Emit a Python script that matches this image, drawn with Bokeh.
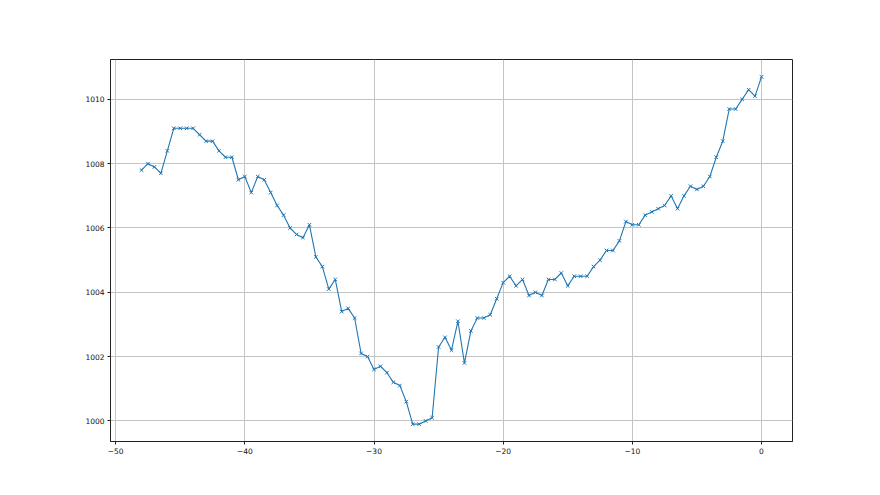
from bokeh.plotting import figure
from bokeh.embed import file_html
from bokeh.resources import INLINE
from bokeh.models import Range1d, FixedTicker, CustomJSTickFormatter, ColumnDataSource

hours = [-48, -47.5, -47, -46.5, -46, -45.5, -45, -44.5, -44, -43.5, -43, -42.5,
         -42, -41.5, -41, -40.5, -40, -39.5, -39, -38.5, -38, -37.5, -37, -36.5,
         -36, -35.5, -35, -34.5, -34, -33.5, -33, -32.5, -32, -31.5, -31, -30.5,
         -30, -29.5, -29, -28.5, -28, -27.5, -27, -26.5, -26, -25.5, -25, -24.5,
         -24, -23.5, -23, -22.5, -22, -21.5, -21, -20.5, -20, -19.5, -19, -18.5,
         -18, -17.5, -17, -16.5, -16, -15.5, -15, -14.5, -14, -13.5, -13, -12.5,
         -12, -11.5, -11, -10.5, -10, -9.5, -9, -8.5, -8, -7.5, -7, -6.5,
         -6, -5.5, -5, -4.5, -4, -3.5, -3, -2.5, -2, -1.5, -1, -0.5, 0]

pressure = [1007.8, 1008.0, 1007.9, 1007.7, 1008.4, 1009.1, 1009.1, 1009.1, 1009.1, 1008.9, 1008.7, 1008.7,
            1008.4, 1008.2, 1008.2, 1007.5, 1007.6, 1007.1, 1007.6, 1007.5, 1007.1, 1006.7, 1006.4, 1006.0,
            1005.8, 1005.7, 1006.1, 1005.1, 1004.8, 1004.1, 1004.4, 1003.4, 1003.5, 1003.2, 1002.1, 1002.0,
            1001.6, 1001.7, 1001.5, 1001.2, 1001.1, 1000.6, 999.9, 999.9, 1000.0, 1000.1, 1002.3, 1002.6,
            1002.2, 1003.1, 1001.8, 1002.8, 1003.2, 1003.2, 1003.3, 1003.8, 1004.3, 1004.5, 1004.2, 1004.4,
            1003.9, 1004.0, 1003.9, 1004.4, 1004.4, 1004.6, 1004.2, 1004.5, 1004.5, 1004.5, 1004.8, 1005.0,
            1005.3, 1005.3, 1005.6, 1006.2, 1006.1, 1006.1, 1006.4, 1006.5, 1006.6, 1006.7, 1007.0, 1006.6,
            1007.0, 1007.3, 1007.2, 1007.3, 1007.6, 1008.2, 1008.7, 1009.7, 1009.7, 1010.0, 1010.3, 1010.1, 1010.7]

x_ticks = [-50, -40, -30, -20, -10, 0]
y_ticks = [1000, 1002, 1004, 1006, 1008, 1010]

src = ColumnDataSource(dict(x=hours, y=pressure))

p = figure(width=864, height=479, output_backend="svg", toolbar_location=None,
           x_range=Range1d(-50.4, 2.4), y_range=Range1d(999.36, 1011.24),
           min_border_left=110, min_border_right=72, min_border_top=59, min_border_bottom=38)

p.outline_line_color = "#222222"
p.outline_line_width = 1
p.background_fill_color = "white"
p.border_fill_color = "white"

p.line("x", "y", source=src, line_color="#1f77b4", line_width=1.1)
p.scatter("x", "y", source=src, marker="x", size=5, line_color="#1f77b4", line_width=1)

fmt = CustomJSTickFormatter(code="return String(tick).replace('-', '\u2212');")
for ax, ticks in ((p.xaxis[0], x_ticks), (p.yaxis[0], y_ticks)):
    ax.ticker = FixedTicker(ticks=ticks)
    ax.formatter = fmt
    ax.axis_line_color = "#222222"
    ax.axis_line_width = 1
    ax.major_tick_line_color = "#222222"
    ax.major_tick_out = 3
    ax.major_tick_in = 0
    ax.minor_tick_line_color = None
    ax.major_label_text_font = "DejaVu Sans"
    ax.major_label_text_font_size = "7.5px"
    ax.major_label_text_color = "#111111"
    ax.major_label_standoff = 3

p.grid.grid_line_color = "#c4c4c4"
p.grid.grid_line_width = 1

open("out.html", "w").write(file_html(p, INLINE))
